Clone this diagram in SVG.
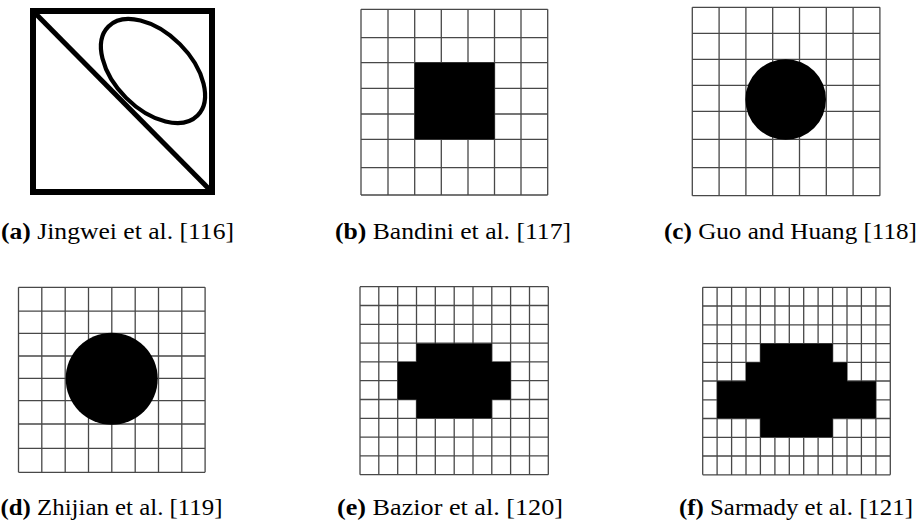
<svg xmlns="http://www.w3.org/2000/svg" width="918" height="524" viewBox="0 0 918 524">
<style>
.grid{fill:none;stroke:#484848;stroke-width:1.3}
.blk{fill:#000;stroke:none}
.cap{font-family:'Liberation Serif','DejaVu Serif',serif;font-size:23px;fill:#000}
.lbl{font-weight:bold}
</style>
<rect x="0" y="0" width="918" height="524" fill="#fff"/>
<g id="panel-a">
<rect x="33" y="11" width="179" height="181" fill="none" stroke="#000" stroke-width="6"/>
<line x1="34" y1="12" x2="211" y2="191" stroke="#000" stroke-width="5"/>
<ellipse cx="153" cy="71" rx="63" ry="38" transform="rotate(45 153 71)" fill="none" stroke="#000" stroke-width="4.2"/>
<text class="cap" font-family="Liberation Serif, serif" x="1" y="238.5" textLength="233" lengthAdjust="spacingAndGlyphs"><tspan class="lbl">(a)</tspan> Jingwei et al. [116]</text>
</g>
<g id="panel-b">
<path class="grid" d="M361 9.3V195M388 9.3V195M414.7 9.3V195M441.3 9.3V195M468 9.3V195M494.5 9.3V195M521 9.3V195M547.7 9.3V195M361 9.3H547.7M361 37.7H547.7M361 62.7H547.7M361 88.3H547.7M361 114H547.7M361 139.3H547.7M361 167.7H547.7M361 195H547.7"/>
<rect class="blk" x="414.7" y="62.7" width="79.8" height="76.6"/>
<text class="cap" font-family="Liberation Serif, serif" x="335" y="238.5" textLength="236" lengthAdjust="spacingAndGlyphs"><tspan class="lbl">(b)</tspan> Bandini et al. [117]</text>
</g>
<g id="panel-c">
<path class="grid" d="M692.3 7.3V195.7M719.1 7.3V195.7M745.9 7.3V195.7M772.7 7.3V195.7M799.5 7.3V195.7M826.3 7.3V195.7M853.1 7.3V195.7M879.9 7.3V195.7M692.3 7.3H879.9M692.3 33.3H879.9M692.3 59.3H879.9M692.3 85.3H879.9M692.3 111.3H879.9M692.3 139.3H879.9M692.3 167.7H879.9M692.3 195.7H879.9"/>
<circle class="blk" cx="785.7" cy="99.5" r="40.3"/>
<text class="cap" font-family="Liberation Serif, serif" x="664" y="238.5" textLength="253" lengthAdjust="spacingAndGlyphs"><tspan class="lbl">(c)</tspan> Guo and Huang [118]</text>
</g>
<g id="panel-d">
<path class="grid" d="M18.5 287.3V472.3M41.8 287.3V472.3M65.2 287.3V472.3M88.5 287.3V472.3M111.8 287.3V472.3M135.2 287.3V472.3M158.5 287.3V472.3M181.8 287.3V472.3M205.1 287.3V472.3M18.5 287.3H205.1M18.5 311.2H205.1M18.5 333.3H205.1M18.5 356H205.1M18.5 378.3H205.1M18.5 400.7H205.1M18.5 424H205.1M18.5 448.3H205.1M18.5 472.3H205.1"/>
<circle class="blk" cx="111.7" cy="378.7" r="46"/>
<text class="cap" font-family="Liberation Serif, serif" x="0.5" y="515" textLength="222" lengthAdjust="spacingAndGlyphs"><tspan class="lbl">(d)</tspan> Zhijian et al. [119]</text>
</g>
<g id="panel-e">
<path class="grid" d="M360 286.7V474.7M378.8 286.7V474.7M397.7 286.7V474.7M416.5 286.7V474.7M435.3 286.7V474.7M454.2 286.7V474.7M473 286.7V474.7M491.8 286.7V474.7M510.6 286.7V474.7M529.5 286.7V474.7M548.3 286.7V474.7M360 286.7H548.3M360 305.5H548.3M360 324.3H548.3M360 343.1H548.3M360 361.9H548.3M360 380.7H548.3M360 399.5H548.3M360 418.3H548.3M360 437.1H548.3M360 455.9H548.3M360 474.7H548.3"/>
<path class="blk" d="M416.5 343.6H491.8V362.1H510.6V399.5H491.8V418H416.5V399.5H397.7V362.1H416.5Z"/>
<text class="cap" font-family="Liberation Serif, serif" x="337" y="515" textLength="226" lengthAdjust="spacingAndGlyphs"><tspan class="lbl">(e)</tspan> Bazior et al. [120]</text>
</g>
<g id="panel-f">
<path class="grid" d="M702.7 287.3V474.8M717.1 287.3V474.8M731.6 287.3V474.8M746 287.3V474.8M760.4 287.3V474.8M774.9 287.3V474.8M789.3 287.3V474.8M803.7 287.3V474.8M818.1 287.3V474.8M832.6 287.3V474.8M847 287.3V474.8M861.4 287.3V474.8M875.9 287.3V474.8M890.3 287.3V474.8M702.7 287.3H890.3M702.7 306H890.3M702.7 324.8H890.3M702.7 343.6H890.3M702.7 362.3H890.3M702.7 381H890.3M702.7 399.8H890.3M702.7 418.5H890.3M702.7 437.3H890.3M702.7 456H890.3M702.7 474.8H890.3"/>
<path class="blk" d="M760.4 343.8H832.6V362.5H847V381.2H875.9V418.3H832.6V437H760.4V418.3H717.1V381.2H746V362.5H760.4Z"/>
<text class="cap" font-family="Liberation Serif, serif" x="679" y="515" textLength="234" lengthAdjust="spacingAndGlyphs"><tspan class="lbl">(f)</tspan> Sarmady et al. [121]</text>
</g>
</svg>
